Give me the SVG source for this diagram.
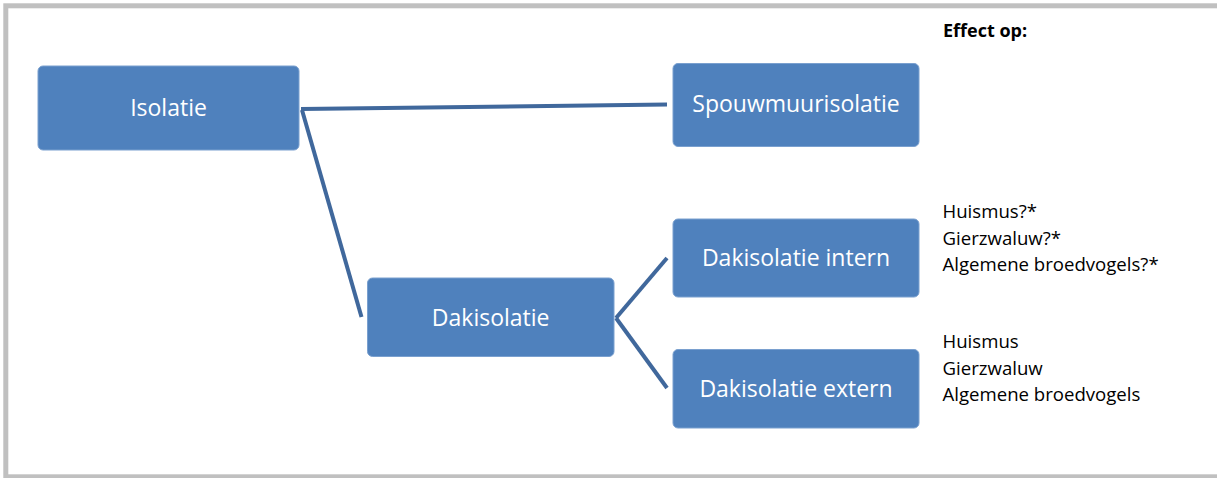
<svg xmlns="http://www.w3.org/2000/svg" width="1217" height="478" viewBox="0 0 1217 478">
<style>
.node rect{fill:#4f81bd;stroke:#7aa0cf;stroke-width:1}
.node text{fill:#ffffff;font-family:"Open Sans","Noto Sans",sans-serif;font-size:23px;text-anchor:middle}
.conn line{stroke:#40689c;stroke-width:4;stroke-linecap:butt}
.note{fill:#000000;font-family:"Open Sans","Noto Sans",sans-serif;font-size:18.6px}
.bold{font-weight:bold;font-size:18px}
</style>
<rect width="1217" height="478" fill="#ffffff"/>
<rect id="frame" x="5.8" y="5.8" width="1260" height="471" fill="none" stroke="#c0c0c0" stroke-width="5"/>
<g id="connectors" class="conn">
<line x1="301" y1="109" x2="667" y2="104.5"/>
<line x1="302" y1="110" x2="361.5" y2="317"/>
<line x1="616" y1="318" x2="667" y2="258"/>
<line x1="616" y1="318" x2="667" y2="388"/>
</g>
<g id="isolatie" class="node">
<rect x="38" y="66" width="261" height="84" rx="5"/>
<text x="168.5" y="116">Isolatie</text>
</g>
<g id="spouwmuurisolatie" class="node">
<rect x="673" y="63.5" width="246" height="83" rx="5"/>
<text x="796" y="112">Spouwmuurisolatie</text>
</g>
<g id="dakisolatie" class="node">
<rect x="367.5" y="278" width="246.5" height="78.5" rx="5"/>
<text x="490.7" y="325.5">Dakisolatie</text>
</g>
<g id="dakisolatie-intern" class="node">
<rect x="673" y="219" width="246" height="78" rx="5"/>
<text x="796" y="265.5">Dakisolatie intern</text>
</g>
<g id="dakisolatie-extern" class="node">
<rect x="673" y="349.5" width="246" height="78.5" rx="5"/>
<text x="796" y="396.5">Dakisolatie extern</text>
</g>
<g id="notes">
<text class="note bold" x="943" y="37">Effect op:</text>
<text class="note" x="942.5" y="218.3">Huismus?*</text>
<text class="note" x="942.5" y="244.7">Gierzwaluw?*</text>
<text class="note" x="942.5" y="271">Algemene broedvogels?*</text>
<text class="note" x="942.5" y="348.3">Huismus</text>
<text class="note" x="942.5" y="374.7">Gierzwaluw</text>
<text class="note" x="942.5" y="401">Algemene broedvogels</text>
</g>
</svg>
